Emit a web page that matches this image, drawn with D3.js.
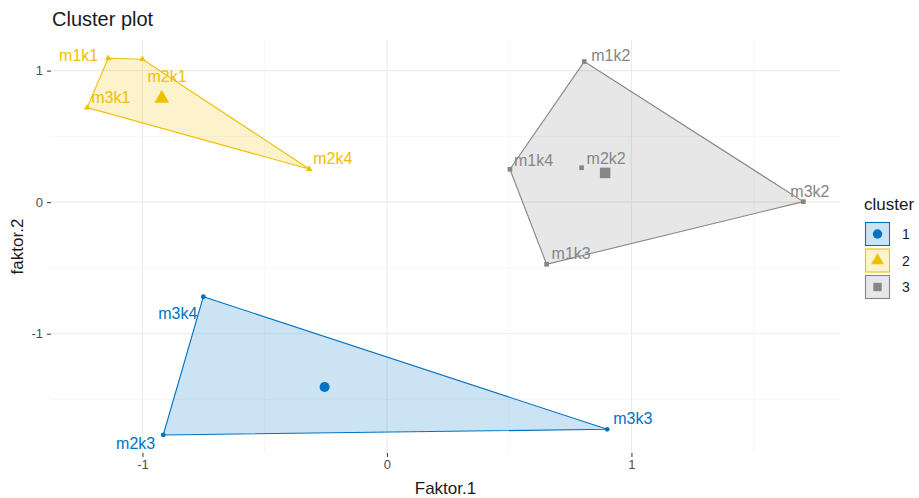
<!DOCTYPE html>
<html>
    <head>
        <meta charset="utf-8">
        <style>
            body { margin: 0; background: white; }
            text { font-family: "Liberation Sans", Arial, sans-serif; }
            .grid_major { stroke: #ebebeb; stroke-width: 1.1; }
            .grid_minor { stroke: #f2f2f2; stroke-width: 0.6; }
            .tick_lab { fill: #4d4d4d; font-size: 13px; }
        </style>
    </head>
    <body>
        <div id="plateau"></div>
        <script src="https://cdn.jsdelivr.net/npm/d3@7"></script>
        <script>

//////////////////// donnees ////////////////////
let noms     = ['m1k1', 'm2k1', 'm3k1', 'm2k4', 'm1k2', 'm1k4', 'm2k2', 'm3k2', 'm1k3', 'm3k4', 'm2k3', 'm3k3'];
let faktor1  = [-1.14, -1.00, -1.226, -0.318, 0.807, 0.503, 0.796, 1.703, 0.653, -0.751, -0.915, 0.901];
let faktor2  = [1.094, 1.087, 0.719, 0.252, 1.069, 0.250, 0.262, 0.004, -0.472, -0.719, -1.770, -1.727];
let clusters = [2, 2, 2, 2, 3, 3, 3, 3, 3, 1, 1, 1];
let cluster_ids = [1, 2, 3];
let x_ticks = [-1, 0, 1];
let y_ticks = [-1, 0, 1];

// decalage des etiquettes (px) : dx, dy, ancrage
let etiquettes = [
    [-10, 3, 'end'], [5, 23, 'start'], [4, -5, 'start'], [4, -5, 'start'],
    [7, -1, 'start'], [4, -3, 'start'], [5, -4, 'start'], [-13, -5, 'start'],
    [5, -5, 'start'], [-6, 22, 'end'], [-8, 14, 'end'], [6, -5, 'start']
];

let couleurs = {1: '#0073C2', 2: '#EFC000', 3: '#868686'};
let formes = {1: d3.symbolCircle, 2: d3.symbolTriangle, 3: d3.symbolSquare};

//////////////////// position ////////////////////
let W = 919, H = 498;
let P_LEFT = 51, P_RIGHT = 840, P_TOP = 40, P_BOTTOM = 453;

let x = d3.scaleLinear().domain([-1.374, 1.853]).range([P_LEFT, P_RIGHT]);
let y = d3.scaleLinear().domain([-1.907, 1.233]).range([P_BOTTOM, P_TOP]);

let svg = d3.select('#plateau').append('svg')
    .attr('width', W)
    .attr('height', H);

// grille
let x_minor = [-0.5, 0.5, 1.5];
let y_minor = [-1.5, -0.5, 0.5];
x_minor.forEach(v => svg.append('line').classed('grid_minor', true)
    .attr('x1', x(v)).attr('x2', x(v)).attr('y1', P_TOP).attr('y2', P_BOTTOM));
y_minor.forEach(v => svg.append('line').classed('grid_minor', true)
    .attr('y1', y(v)).attr('y2', y(v)).attr('x1', P_LEFT).attr('x2', P_RIGHT));
x_ticks.forEach(v => svg.append('line').classed('grid_major', true)
    .attr('x1', x(v)).attr('x2', x(v)).attr('y1', P_TOP).attr('y2', P_BOTTOM));
y_ticks.forEach(v => svg.append('line').classed('grid_major', true)
    .attr('y1', y(v)).attr('y2', y(v)).attr('x1', P_LEFT).attr('x2', P_RIGHT));

// axes
let ax_x = svg.append('g')
    .attr('transform', `translate(0, ${P_BOTTOM})`)
    .call(d3.axisBottom(x).tickValues(x_ticks).tickSize(4).tickPadding(3).tickFormat(d => String(d)));
let ax_y = svg.append('g')
    .attr('transform', `translate(${P_LEFT}, 0)`)
    .call(d3.axisLeft(y).tickValues(y_ticks).tickSize(4).tickPadding(4).tickFormat(d => String(d)));
[ax_x, ax_y].forEach(ax => {
    ax.select('.domain').remove();
    ax.selectAll('.tick line').attr('stroke', '#333333').attr('stroke-width', 1);
    ax.selectAll('.tick text').attr('class', 'tick_lab').attr('font-family', null).attr('font-size', null);
});

// donnees des points
let points = noms.map((n, i) => ({nom: n, fx: faktor1[i], fy: faktor2[i], c: clusters[i], lab: etiquettes[i]}));

// enveloppes
cluster_ids.forEach(c => {
    let pts = points.filter(p => p.c == c).map(p => [x(p.fx), y(p.fy)]);
    let hull = d3.polygonHull(pts);
    svg.append('path')
        .attr('d', 'M' + hull.join('L') + 'Z')
        .attr('fill', couleurs[c])
        .attr('fill-opacity', 0.2)
        .attr('stroke', couleurs[c])
        .attr('stroke-width', 1.1);
});

// points
svg.append('g').selectAll('path')
    .data(points)
    .join('path')
    .attr('transform', p => `translate(${x(p.fx)}, ${y(p.fy)})`)
    .attr('d', p => d3.symbol(formes[p.c], p.c == 3 ? 22 : 18)())
    .attr('fill', p => couleurs[p.c]);

// centres
cluster_ids.forEach(c => {
    let pts = points.filter(p => p.c == c);
    let cx = d3.mean(pts, p => p.fx), cy = d3.mean(pts, p => p.fy);
    svg.append('path')
        .attr('transform', `translate(${x(cx)}, ${y(cy)})`)
        .attr('d', d3.symbol(formes[c], c == 1 ? 80 : (c == 2 ? 95 : 110))())
        .attr('fill', couleurs[c]);
});

// etiquettes
svg.append('g').selectAll('text')
    .data(points)
    .join('text')
    .attr('x', p => x(p.fx) + p.lab[0])
    .attr('y', p => y(p.fy) + p.lab[1])
    .attr('text-anchor', p => p.lab[2])
    .attr('font-size', '16px')
    .attr('fill', p => couleurs[p.c])
    .text(p => p.nom);

// titres
svg.append('text')
    .attr('x', P_LEFT + 1).attr('y', 26)
    .attr('font-size', '20px').attr('fill', '#1a1a1a')
    .text('Cluster plot');
svg.append('text')
    .attr('x', (P_LEFT + P_RIGHT) / 2).attr('y', 494)
    .attr('text-anchor', 'middle')
    .attr('font-size', '17px').attr('fill', '#1a1a1a')
    .text('Faktor.1');
svg.append('text')
    .attr('transform', `translate(23, ${(P_TOP + P_BOTTOM) / 2}) rotate(-90)`)
    .attr('text-anchor', 'middle')
    .attr('font-size', '17px').attr('fill', '#1a1a1a')
    .text('faktor.2');

// legende
let leg = svg.append('g').attr('transform', 'translate(864, 0)');
leg.append('text')
    .attr('x', 0).attr('y', 210)
    .attr('font-size', '17px').attr('fill', '#1a1a1a')
    .text('cluster');
cluster_ids.forEach((c, idx) => {
    let y0 = 222 + idx * 26.5;
    leg.append('rect')
        .attr('x', 1.5).attr('y', y0 + 0.5)
        .attr('width', 24).attr('height', 23)
        .attr('fill', couleurs[c]).attr('fill-opacity', 0.2)
        .attr('stroke', couleurs[c]).attr('stroke-width', 1.1);
    leg.append('path')
        .attr('transform', `translate(13.5, ${y0 + 12})`)
        .attr('d', d3.symbol(formes[c], 70)())
        .attr('fill', couleurs[c]);
    leg.append('text')
        .attr('x', 38).attr('y', y0 + 17)
        .attr('font-size', '14px').attr('fill', '#1a1a1a')
        .text(c);
});

        </script>
    </body>
</html>
